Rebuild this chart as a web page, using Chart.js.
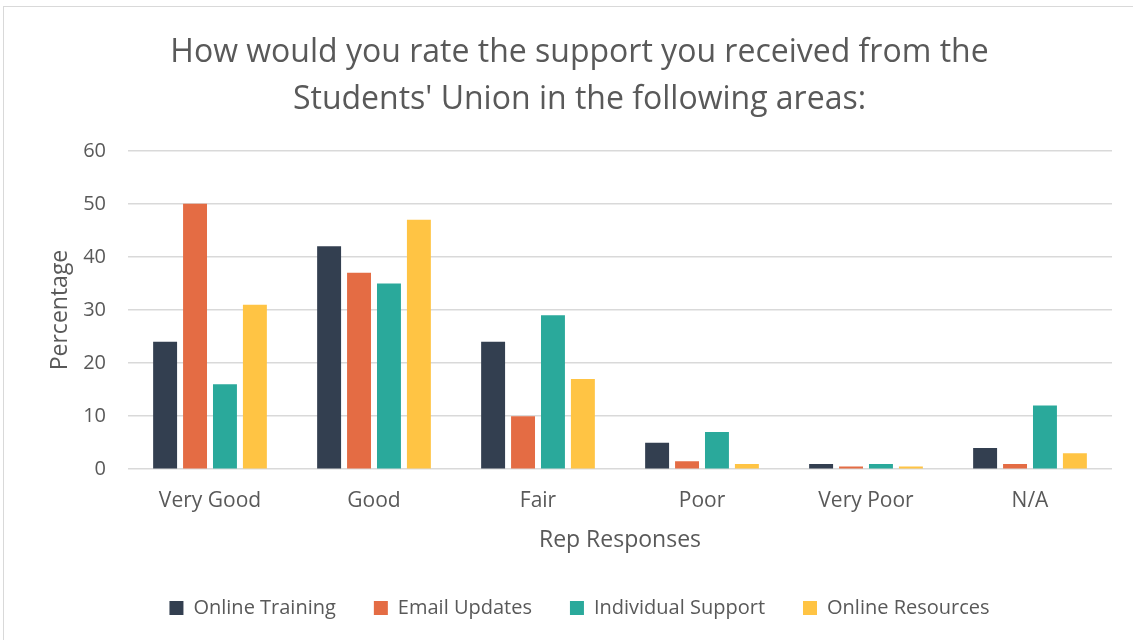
<!DOCTYPE html>
<html>
<head>
<meta charset="utf-8">
<script src="https://cdn.jsdelivr.net/npm/chart.js@4/dist/chart.umd.min.js"></script>
<style>
	html, body { margin: 0; padding: 0; background: #fff; }
	#frame { position: absolute; left: 3px; top: 6px; width: 1140px; height: 650px; border: 1px solid #d9d9d9; }
	#wrap { position: absolute; left: 0; top: 0; width: 1133px; height: 640px; }
</style>
</head>
<body>
<div id="frame"></div>
<div id="wrap"><canvas id="chart"></canvas></div>
<script>
var categories = ['Very Good', 'Good', 'Fair', 'Poor', 'Very Poor', 'N/A'];
var onlineTraining = [24, 42, 24, 5, 1, 4];
var emailUpdates = [50, 37, 10, 1.5, 0.5, 1];
var individualSupport = [16, 35, 29, 7, 1, 12];
var onlineResources = [31, 47, 17, 1, 0.5, 3];
var seriesNames = ['Online Training', 'Email Updates', 'Individual Support', 'Online Resources'];
var seriesColors = ['#333f50', '#e46c44', '#2aa99b', '#ffc444'];

var textColor = '#595959';
var fontFamily = '"Open Sans", sans-serif';
var gridColor = '#d9d9d9';

var seriesData = [onlineTraining, emailUpdates, individualSupport, onlineResources];

var datasets = seriesData.map(function(values, i) {
	return {
		label: seriesNames[i],
		data: values,
		backgroundColor: seriesColors[i],
		borderWidth: 0,
		categoryPercentage: 0.73,
		barPercentage: 0.8
	};
});

var ctx = document.getElementById('chart').getContext('2d');
var myChart = new Chart(ctx, {
	type: 'bar',
	data: { labels: categories, datasets: datasets },
	options: {
		responsive: true,
		maintainAspectRatio: false,
		animation: false,
		layout: { padding: { left: 47, right: 21, top: 30, bottom: 12 } },
		plugins: {
			title: {
				display: true,
				text: ['How would you rate the support you received from the', "Students' Union in the following areas:"],
				color: textColor,
				font: { family: fontFamily, size: 32, weight: 'normal', lineHeight: 1.45 },
				padding: { top: 0, bottom: 28 }
			},
			legend: {
				position: 'bottom',
				labels: {
					color: textColor,
					font: { family: fontFamily, size: 20 },
					boxWidth: 14,
					boxHeight: 14,
					padding: 38
				}
			},
			tooltip: { enabled: false }
		},
		scales: {
			x: {
				grid: { display: false },
				border: { display: false },
				ticks: { color: textColor, font: { family: fontFamily, size: 21 }, padding: 11 },
				title: { display: true, text: 'Rep Responses', color: textColor, font: { family: fontFamily, size: 23 }, padding: { top: 2, bottom: 6 } }
			},
			y: {
				min: 0,
				max: 60,
				ticks: { stepSize: 10, color: textColor, font: { family: fontFamily, size: 20 }, padding: 22 },
				grid: { color: gridColor, lineWidth: 1.5, drawTicks: false },
				border: { display: false },
				title: { display: true, text: 'Percentage', color: textColor, font: { family: fontFamily, size: 23 }, padding: 0 },
				afterFit: function(scale) { scale.width = 81; }
			}
		}
	}
});
</script>
</body>
</html>
